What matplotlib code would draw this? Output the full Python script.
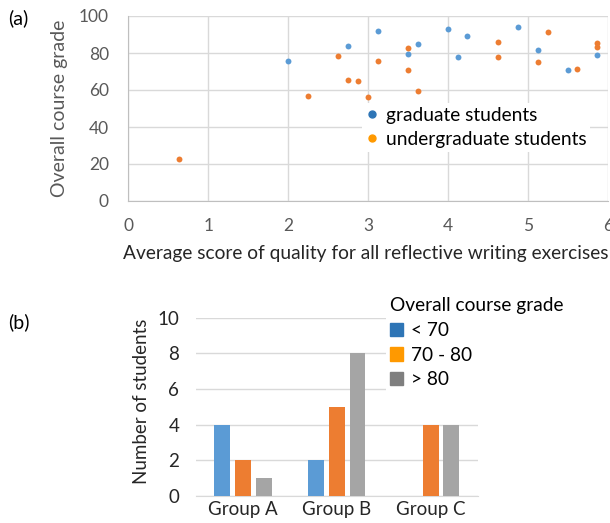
import matplotlib
matplotlib.use("Agg")
import matplotlib.pyplot as plt
from matplotlib.lines import Line2D
from matplotlib.patches import Patch

plt.rcParams['font.family'] = ['Lato', 'DejaVu Sans']

# (a) scatter data: average reflective writing score vs overall course grade
grad_x = [2.00, 2.75, 3.12, 3.49, 3.62, 3.99, 4.12, 4.24, 4.87, 5.12, 5.49, 5.86]
grad_y = [75.7, 83.8, 91.9, 79.6, 84.7, 92.8, 77.8, 89.4, 94.2, 81.6, 71.0, 78.9]
under_x = [0.63, 2.25, 2.62, 2.75, 2.87, 3.00, 3.12, 3.49, 3.49, 3.62, 4.62, 4.62,
           5.12, 5.24, 5.61, 5.86, 5.86]
under_y = [22.9, 56.6, 78.2, 65.4, 64.9, 56.3, 75.7, 82.9, 70.6, 59.6, 86.1, 77.7,
           75.1, 91.5, 71.4, 85.2, 83.2]

# (b) bar data
groups = ['Group A', 'Group B', 'Group C']
grade_bins = ['< 70', '70 - 80', '> 80']
counts = {'< 70': [4, 2, 0], '70 - 80': [2, 5, 4], '> 80': [1, 8, 4]}

bar_colors = ['#5B9BD5', '#ED7D31', '#A5A5A5']
leg_colors = ['#2E75B6', '#FF9900', '#7F7F7F']
tick_gray = '#595959'
grid_gray = '#D9D9D9'

fig = plt.figure(figsize=(6.10, 5.23), dpi=100)

# ---------- (a) ----------
ax1 = fig.add_axes([128.3 / 610, 1 - 201 / 523, 480 / 610, 185 / 523])
ax1.scatter(grad_x, grad_y, s=18, color='#5B9BD5', zorder=3, linewidths=0)
ax1.scatter(under_x, under_y, s=18, color='#ED7D31', zorder=3, linewidths=0)
ax1.set_xlim(0, 6)
ax1.set_ylim(0, 100)
ax1.set_xticks(range(0, 7))
ax1.set_yticks(range(0, 101, 20))
ax1.grid(True, color=grid_gray, linewidth=1)
ax1.set_axisbelow(True)
for sp in ['top', 'right']:
    ax1.spines[sp].set_visible(False)
for sp in ['left', 'bottom']:
    ax1.spines[sp].set_color('#BFBFBF')
ax1.tick_params(length=0, labelsize=12.5, labelcolor=tick_gray)
ax1.tick_params(axis='x', pad=12)
ax1.tick_params(axis='y', pad=14)
ax1.set_xlabel('Average score of quality for all reflective writing exercises',
               fontsize=13.8, color='#262626')
ax1.xaxis.set_label_coords(0.495, -0.24)
ax1.set_ylabel('Overall course grade', fontsize=14, color=tick_gray)
ax1.yaxis.set_label_coords(-0.126, 0.5)
h1 = [Line2D([], [], marker='o', linestyle='', color=leg_colors[0], markersize=5),
      Line2D([], [], marker='o', linestyle='', color=leg_colors[1], markersize=5)]
leg1 = ax1.legend(h1, ['graduate students', 'undergraduate students'],
                  loc='upper left', bbox_to_anchor=(0.466, 0.58), frameon=True,
                  fontsize=13.8, handletextpad=0.35, handlelength=0.7,
                  labelspacing=0.35, borderpad=0.2, fancybox=False)
leg1.get_frame().set_edgecolor('none')
leg1.get_frame().set_alpha(1)

fig.text(8 / 610, 1 - 18 / 523, '(a)', fontsize=14, va='center', ha='left')

# ---------- (b) ----------
ax2 = fig.add_axes([196 / 610, 1 - 495.7 / 523, 281.7 / 610, 178 / 523])
width = 0.17
step = 0.22
for i, b in enumerate(grade_bins):
    xs = [g + (i - 1) * step for g in range(len(groups))]
    ax2.bar(xs, counts[b], width=width, color=bar_colors[i], zorder=3)
ax2.set_xlim(-0.5, 2.5)
ax2.set_ylim(0, 10)
ax2.set_yticks(range(0, 11, 2))
ax2.set_xticks(range(len(groups)))
ax2.set_xticklabels(groups)
ax2.grid(True, axis='y', color=grid_gray, linewidth=1)
ax2.set_axisbelow(True)
for sp in ['top', 'right', 'left']:
    ax2.spines[sp].set_visible(False)
ax2.spines['bottom'].set_color(grid_gray)
ax2.tick_params(length=0, labelsize=13.5, labelcolor='#262626')
ax2.tick_params(axis='y', pad=12)
ax2.tick_params(axis='x', pad=4)
ax2.set_ylabel('Number of students', fontsize=13.5, color='#262626')
ax2.yaxis.set_label_coords(-0.163, 0.528)
h2 = [Patch(color=c) for c in leg_colors]
leg2 = ax2.legend(h2, grade_bins, title='Overall course grade',
                  loc='upper left', bbox_to_anchor=(0.64, 1.19),
                  fontsize=13.8, title_fontsize=13.8, frameon=True,
                  handlelength=0.7, handleheight=0.7, handletextpad=0.4,
                  labelspacing=0.4, borderpad=0.2, fancybox=False)
leg2._legend_box.align = 'left'
leg2.get_frame().set_edgecolor('none')
leg2.get_frame().set_alpha(1)

fig.text(8 / 610, 1 - 322 / 523, '(b)', fontsize=14, va='center', ha='left')

fig.savefig('out.png', dpi=100)
